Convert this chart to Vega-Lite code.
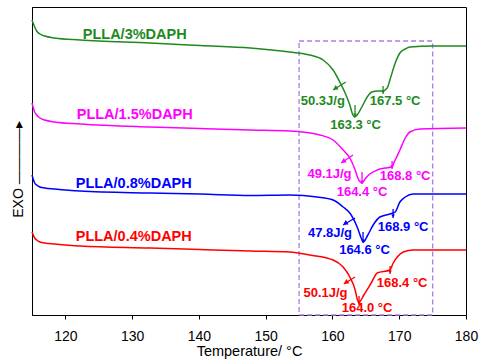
{
  "$schema": "https://vega.github.io/schema/vega-lite/v6.json",
  "width": 434,
  "height": 308,
  "autosize": {"type": "none"},
  "padding": {"left": 32, "top": 7, "right": 17, "bottom": 48},
  "config": {
    "view": {"stroke": "#000", "strokeWidth": 1},
    "font": "Liberation Sans",
    "axis": {"domainColor": "#000", "tickColor": "#000", "labelColor": "#000", "titleColor": "#000", "grid": false, "labelOverlap": false}
  },
  "datasets": {
    "curves": [
      {"s": "3%", "T": 115.0, "v": 295}, {"s": "3%", "T": 115.4, "v": 288}, {"s": "3%", "T": 115.7, "v": 284}, {"s": "3%", "T": 116.2, "v": 281},
      {"s": "3%", "T": 116.9, "v": 279}, {"s": "3%", "T": 118.4, "v": 277}, {"s": "3%", "T": 122.2, "v": 275}, {"s": "3%", "T": 132.7, "v": 272},
      {"s": "3%", "T": 140.2, "v": 269.5}, {"s": "3%", "T": 147.7, "v": 267}, {"s": "3%", "T": 153.6, "v": 263}, {"s": "3%", "T": 156.6, "v": 260},
      {"s": "3%", "T": 158.6, "v": 255}, {"s": "3%", "T": 160.1, "v": 245}, {"s": "3%", "T": 161.1, "v": 233}, {"s": "3%", "T": 161.9, "v": 222},
      {"s": "3%", "T": 162.6, "v": 210}, {"s": "3%", "T": 163.0, "v": 201}, {"s": "3%", "T": 163.3, "v": 198}, {"s": "3%", "T": 163.7, "v": 200},
      {"s": "3%", "T": 164.4, "v": 208}, {"s": "3%", "T": 165.2, "v": 218}, {"s": "3%", "T": 165.9, "v": 223}, {"s": "3%", "T": 166.8, "v": 224},
      {"s": "3%", "T": 167.5, "v": 224}, {"s": "3%", "T": 168.2, "v": 227}, {"s": "3%", "T": 168.6, "v": 235}, {"s": "3%", "T": 169.4, "v": 252},
      {"s": "3%", "T": 170.1, "v": 262}, {"s": "3%", "T": 170.9, "v": 266}, {"s": "3%", "T": 171.6, "v": 268}, {"s": "3%", "T": 175.0, "v": 269},
      {"s": "3%", "T": 180.0, "v": 269},

      {"s": "1.5%", "T": 115.0, "v": 212}, {"s": "1.5%", "T": 115.4, "v": 203}, {"s": "1.5%", "T": 115.7, "v": 200}, {"s": "1.5%", "T": 116.2, "v": 197},
      {"s": "1.5%", "T": 116.9, "v": 195}, {"s": "1.5%", "T": 118.4, "v": 193}, {"s": "1.5%", "T": 122.2, "v": 191}, {"s": "1.5%", "T": 132.7, "v": 188},
      {"s": "1.5%", "T": 140.2, "v": 186.5}, {"s": "1.5%", "T": 147.7, "v": 185}, {"s": "1.5%", "T": 153.6, "v": 184}, {"s": "1.5%", "T": 158.1, "v": 180},
      {"s": "1.5%", "T": 160.1, "v": 175}, {"s": "1.5%", "T": 161.6, "v": 165}, {"s": "1.5%", "T": 162.6, "v": 157}, {"s": "1.5%", "T": 163.4, "v": 145},
      {"s": "1.5%", "T": 163.8, "v": 137}, {"s": "1.5%", "T": 164.4, "v": 132}, {"s": "1.5%", "T": 165.0, "v": 137}, {"s": "1.5%", "T": 165.6, "v": 141},
      {"s": "1.5%", "T": 166.7, "v": 145}, {"s": "1.5%", "T": 167.9, "v": 147}, {"s": "1.5%", "T": 168.8, "v": 148}, {"s": "1.5%", "T": 169.4, "v": 155},
      {"s": "1.5%", "T": 170.1, "v": 165}, {"s": "1.5%", "T": 170.9, "v": 177}, {"s": "1.5%", "T": 171.6, "v": 183}, {"s": "1.5%", "T": 173.1, "v": 186},
      {"s": "1.5%", "T": 180.0, "v": 187},

      {"s": "0.8%", "T": 115.0, "v": 140}, {"s": "0.8%", "T": 115.4, "v": 132}, {"s": "0.8%", "T": 115.7, "v": 130}, {"s": "0.8%", "T": 116.2, "v": 128},
      {"s": "0.8%", "T": 116.9, "v": 127}, {"s": "0.8%", "T": 118.4, "v": 126}, {"s": "0.8%", "T": 122.2, "v": 124}, {"s": "0.8%", "T": 132.7, "v": 122},
      {"s": "0.8%", "T": 140.2, "v": 121}, {"s": "0.8%", "T": 147.7, "v": 119.5}, {"s": "0.8%", "T": 153.6, "v": 120}, {"s": "0.8%", "T": 157.7, "v": 118},
      {"s": "0.8%", "T": 160.1, "v": 115}, {"s": "0.8%", "T": 161.6, "v": 108}, {"s": "0.8%", "T": 162.6, "v": 102}, {"s": "0.8%", "T": 163.7, "v": 88},
      {"s": "0.8%", "T": 164.3, "v": 77}, {"s": "0.8%", "T": 164.6, "v": 73}, {"s": "0.8%", "T": 165.3, "v": 80}, {"s": "0.8%", "T": 166.1, "v": 90},
      {"s": "0.8%", "T": 167.1, "v": 98}, {"s": "0.8%", "T": 168.6, "v": 101}, {"s": "0.8%", "T": 169.4, "v": 103}, {"s": "0.8%", "T": 170.1, "v": 113},
      {"s": "0.8%", "T": 170.9, "v": 118}, {"s": "0.8%", "T": 172.1, "v": 121}, {"s": "0.8%", "T": 175.1, "v": 121}, {"s": "0.8%", "T": 180.0, "v": 121},

      {"s": "0.4%", "T": 115.0, "v": 83}, {"s": "0.4%", "T": 115.4, "v": 77}, {"s": "0.4%", "T": 115.7, "v": 75}, {"s": "0.4%", "T": 116.2, "v": 73},
      {"s": "0.4%", "T": 116.9, "v": 72}, {"s": "0.4%", "T": 118.4, "v": 71}, {"s": "0.4%", "T": 122.2, "v": 69}, {"s": "0.4%", "T": 132.7, "v": 67},
      {"s": "0.4%", "T": 140.2, "v": 65.5}, {"s": "0.4%", "T": 147.7, "v": 64}, {"s": "0.4%", "T": 153.6, "v": 63}, {"s": "0.4%", "T": 156.6, "v": 60},
      {"s": "0.4%", "T": 160.1, "v": 55}, {"s": "0.4%", "T": 161.6, "v": 48}, {"s": "0.4%", "T": 162.6, "v": 38}, {"s": "0.4%", "T": 163.4, "v": 25},
      {"s": "0.4%", "T": 163.7, "v": 16}, {"s": "0.4%", "T": 164.0, "v": 13}, {"s": "0.4%", "T": 164.7, "v": 20}, {"s": "0.4%", "T": 165.8, "v": 32},
      {"s": "0.4%", "T": 166.7, "v": 42}, {"s": "0.4%", "T": 168.6, "v": 45}, {"s": "0.4%", "T": 169.1, "v": 52}, {"s": "0.4%", "T": 169.7, "v": 58},
      {"s": "0.4%", "T": 170.6, "v": 63}, {"s": "0.4%", "T": 172.1, "v": 65}, {"s": "0.4%", "T": 175.1, "v": 65}, {"s": "0.4%", "T": 180.0, "v": 65}
    ],
    "names": [
      {"s": "3%", "T": 122.6, "v": 280, "text": "PLLA/3%DAPH"},
      {"s": "1.5%", "T": 121.7, "v": 200, "text": "PLLA/1.5%DAPH"},
      {"s": "0.8%", "T": 121.55, "v": 131, "text": "PLLA/0.8%DAPH"},
      {"s": "0.4%", "T": 121.55, "v": 78, "text": "PLLA/0.4%DAPH"}
    ],
    "notes": [
      {"s": "3%", "T": 158.55, "v": 214, "text": "50.3J/g"},
      {"s": "3%", "T": 169.38, "v": 214, "text": "167.5 °C"},
      {"s": "3%", "T": 163.46, "v": 190, "text": "163.3 °C"},
      {"s": "1.5%", "T": 159.56, "v": 141, "text": "49.1J/g"},
      {"s": "1.5%", "T": 170.88, "v": 139, "text": "168.8 °C"},
      {"s": "1.5%", "T": 164.43, "v": 123, "text": "164.4 °C"},
      {"s": "0.8%", "T": 159.63, "v": 82, "text": "47.8J/g"},
      {"s": "0.8%", "T": 170.58, "v": 88, "text": "168.9 °C"},
      {"s": "0.8%", "T": 164.8, "v": 65, "text": "164.6 °C"},
      {"s": "0.4%", "T": 158.96, "v": 22, "text": "50.1J/g"},
      {"s": "0.4%", "T": 170.43, "v": 32, "text": "168.4 °C"},
      {"s": "0.4%", "T": 165.18, "v": 7, "text": "164.0 °C"}
    ],
    "segs": [
      {"s": "3%", "T": 162.0, "v": 233, "T2": 160.1, "v2": 225},
      {"s": "3%", "T": 163.38, "v": 210, "T2": 163.38, "v2": 198},
      {"s": "3%", "T": 167.58, "v": 229, "T2": 167.58, "v2": 221},
      {"s": "1.5%", "T": 163.08, "v": 160, "T2": 161.3, "v2": 152},
      {"s": "1.5%", "T": 164.43, "v": 143, "T2": 164.43, "v2": 131},
      {"s": "1.5%", "T": 168.93, "v": 154, "T2": 168.93, "v2": 146},
      {"s": "0.8%", "T": 163.38, "v": 97, "T2": 161.6, "v2": 90},
      {"s": "0.8%", "T": 164.58, "v": 83, "T2": 164.58, "v2": 72},
      {"s": "0.8%", "T": 169.08, "v": 106, "T2": 169.08, "v2": 97},
      {"s": "0.4%", "T": 163.38, "v": 38, "T2": 161.7, "v2": 31},
      {"s": "0.4%", "T": 163.98, "v": 19, "T2": 163.98, "v2": 10},
      {"s": "0.4%", "T": 168.63, "v": 49, "T2": 168.63, "v2": 41}
    ],
    "heads": [
      {"s": "3%", "T": 160.4, "v": 226.5, "angle": 238, "size": 30},
      {"s": "3%", "T": 163.38, "v": 200, "angle": 180, "size": 14},
      {"s": "3%", "T": 167.58, "v": 223, "angle": 180, "size": 14},
      {"s": "1.5%", "T": 161.6, "v": 153.5, "angle": 238, "size": 30},
      {"s": "1.5%", "T": 164.43, "v": 133, "angle": 180, "size": 14},
      {"s": "1.5%", "T": 168.93, "v": 148, "angle": 180, "size": 14},
      {"s": "0.8%", "T": 161.9, "v": 91.5, "angle": 238, "size": 30},
      {"s": "0.8%", "T": 164.58, "v": 74, "angle": 180, "size": 14},
      {"s": "0.8%", "T": 169.08, "v": 99, "angle": 180, "size": 14},
      {"s": "0.4%", "T": 162.0, "v": 32.5, "angle": 238, "size": 30},
      {"s": "0.4%", "T": 163.98, "v": 12, "angle": 180, "size": 14},
      {"s": "0.4%", "T": 168.63, "v": 43, "angle": 180, "size": 14}
    ],
    "box": [{"T": 155, "T2": 175, "v": 0, "v2": 274}]
  },
  "layer": [
    {
      "data": {"name": "box"},
      "mark": {"type": "rect", "fill": null, "fillOpacity": 0, "stroke": "#a97fe3", "strokeWidth": 1.3, "strokeDash": [5, 3]},
      "encoding": {
        "x": {"field": "T", "type": "quantitative", "scale": {"domain": [115, 180], "nice": false, "zero": false},
          "axis": {"values": [120, 125, 130, 135, 140, 145, 150, 155, 160, 165, 170, 175, 180],
            "labelExpr": "datum.value % 10 == 0 ? datum.label : ''",
            "labelOverlap": false,
            "title": "Temperature/ °C", "labelFontSize": 14, "titleFontSize": 14.5, "titleFontWeight": "normal",
            "tickSize": 4, "labelPadding": 10, "titlePadding": 1, "labelFlush": false}},
        "x2": {"field": "T2"},
        "y": {"field": "v", "type": "quantitative", "scale": {"domain": [0, 308], "nice": false, "zero": false},
          "axis": {"ticks": false, "labels": false, "title": "EXO  ————▸", "titleFontSize": 14, "titleFontWeight": "normal",
            "titleAngle": -90, "titleAlign": "center", "titleBaseline": "middle", "titleX": -14, "titleY": 162}},
        "y2": {"field": "v2"}
      }
    },
    {
      "data": {"name": "curves"},
      "mark": {"type": "line", "strokeWidth": 1.5, "interpolate": "monotone"},
      "encoding": {
        "x": {"field": "T", "type": "quantitative"},
        "y": {"field": "v", "type": "quantitative"},
        "color": {"field": "s", "type": "nominal", "legend": null,
          "scale": {"domain": ["3%", "1.5%", "0.8%", "0.4%"], "range": ["#1e8a1e", "#ff00ff", "#0000ff", "#ff0000"]}}
      }
    },
    {
      "data": {"name": "segs"},
      "mark": {"type": "rule", "strokeWidth": 1.3},
      "encoding": {
        "x": {"field": "T", "type": "quantitative"},
        "y": {"field": "v", "type": "quantitative"},
        "x2": {"field": "T2"},
        "y2": {"field": "v2"},
        "color": {"field": "s", "type": "nominal", "legend": null}
      }
    },
    {
      "data": {"name": "heads"},
      "mark": {"type": "point", "shape": "triangle-up", "filled": true, "opacity": 1},
      "encoding": {
        "x": {"field": "T", "type": "quantitative"},
        "y": {"field": "v", "type": "quantitative"},
        "angle": {"field": "angle", "type": "quantitative", "scale": null},
        "size": {"field": "size", "type": "quantitative", "scale": null},
        "color": {"field": "s", "type": "nominal", "legend": null}
      }
    },
    {
      "data": {"name": "names"},
      "mark": {"type": "text", "align": "left", "baseline": "middle", "fontSize": 14.5, "fontWeight": "bold"},
      "encoding": {
        "x": {"field": "T", "type": "quantitative"},
        "y": {"field": "v", "type": "quantitative"},
        "text": {"field": "text"},
        "color": {"field": "s", "type": "nominal", "legend": null}
      }
    },
    {
      "data": {"name": "notes"},
      "mark": {"type": "text", "align": "center", "baseline": "middle", "fontSize": 13, "fontWeight": "bold"},
      "encoding": {
        "x": {"field": "T", "type": "quantitative"},
        "y": {"field": "v", "type": "quantitative"},
        "text": {"field": "text"},
        "color": {"field": "s", "type": "nominal", "legend": null}
      }
    }
  ]
}
